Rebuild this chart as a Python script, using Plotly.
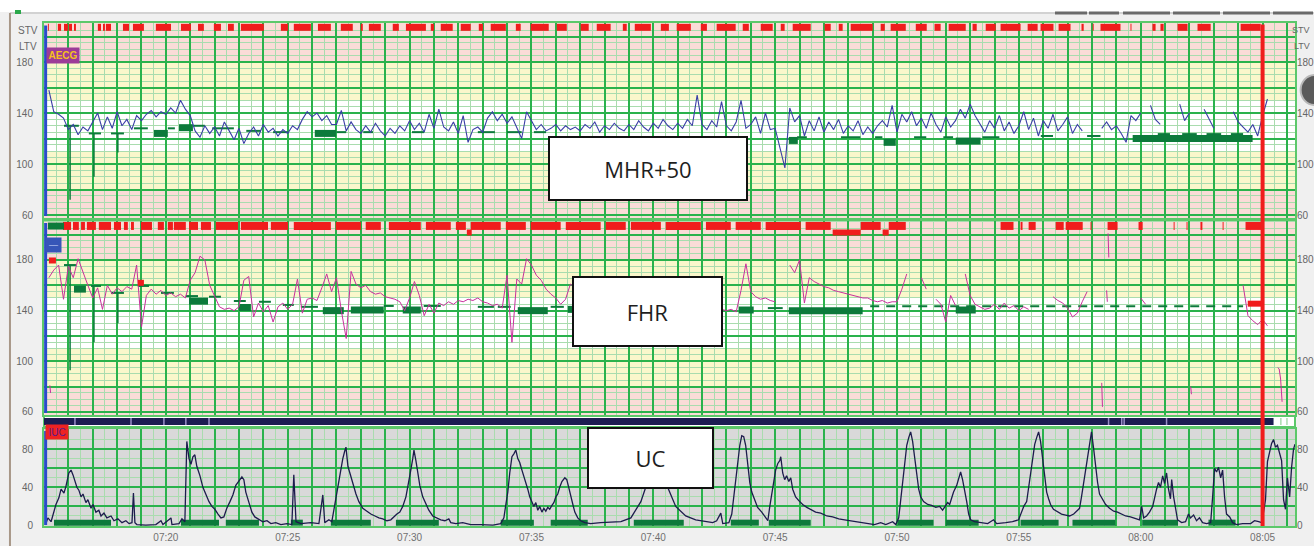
import plotly.graph_objects as go

# ---------------- DATA (time in minutes after 07:00) ----------------
X_RANGE = [15.0, 66.33]
TICK_MINUTES = [20, 25, 30, 35, 40, 45, 50, 55, 60, 65]
TICK_LABELS = ["07:20", "07:25", "07:30", "07:35", "07:40", "07:45", "07:50", "07:55", "08:00", "08:05"]
HR_LABEL_VALUES = [60, 100, 140, 180]
UC_LABEL_VALUES = [0, 40, 80]
MARKER_MINUTE = 65.0  # red time cursor (08:05)

# sampled heart-rate traces (every 0.2 min starting 07:15)
SAMPLE_START = 15.0
SAMPLE_STEP = 0.2
mhr_values = [
    None, 158, 141, 139, 136, 127, 131, 123, 129, 126,
    133, 140, 127, 137, 128, 141, 130, 135, 127, 138,
    134, 139, 142, 137, 141, 139, 144, 140, 150, 143,
    138, 126, 121, 130, 124, 129, 122, 133, 126, 119,
    128, 116, 124, 129, 122, 131, 125, 128, 122, 127,
    124, 130, 127, 135, 141, 137, 140, 134, 138, 131,
    131, 142, 126, 133, 127, 124, 130, 125, 132, 126,
    122, 128, 124, 130, 126, 134, 127, 132, 125, 139,
    128, 143, 129, 126, 133, 124, 138, 117, 127, 129,
    125, 136, 141, 134, 139, 132, 137, 128, 120, 141,
    134, 127, 131, 126, 128, 131, 126, 130, 127, 129,
    126, 131, 128, 133, 125, 130, 127, 132, 128, 126,
    131, 127, 134, 129, 126, 132, 128, 135, 130, 127,
    132, 128, 135, 130, 154, 131, 127, 134, 129, 149,
    130, 126, 133, 150, 128, 131, 137, 124, 140, 127,
    128, 113, 97, 144, 133, 138, 122, 134, 126, 137,
    125, 133, 127, 135, 124, 130, 126, 134, 123, 129,
    124, 130, 134, 129, 146, 125, 139, 133, 141, 130,
    136, 128, 140, 131, 125, 137, 129, 134, 143, 136,
    147, 138, 131, 125, 134, 128, 138, 126, 133, 124,
    130, 141, 127, 136, 122, 134, 128, 139, 126, 131,
    137, 124, 131, 126, None, None, None, 128, 133, 127,
    130, 124, 117, 138, 134, 140, None, 146, 135, 131,
    None, None, None, 147, 134, 140, None, None, 143, 135,
    128, None, None, None, 141, 133, 129, 125, 131, 122,
    138, 151,
]
fhr_values = [
    None, 166, 172, 176, 149, 175, 166, 181, 170, 160,
    150, 158, 141, 160, 153, 158, 155, 159, 157, 176,
    127, 152, 157, 153, 156, 152, 154, 151, 153, 150,
    164, 170, 183, 180, 160, 151, 143, 141, 142, 140,
    143, 164, 167, 135, 146, 139, 144, 131, 143, 146,
    141, 145, 165, 138, 149, 150, 148, 158, 169, 155,
    166, 140, 118, 171, 161, 158, 160, 155, 153, 154,
    151, 150, 149, 147, 140, 150, 163, 152, 136, 145,
    138, 146, 144, 147, 145, 148, 147, 149, 148, 150,
    147, 146, 144, 145, 142, 168, 115, 165, 161, 181,
    176, 168, 164, 157, 153, 150, 145, 149, 161, 158,
    152, 148, 150, 146, 149, 151, 147, 145, 148, 150,
    146, 144, 147, 149, 145, 143, 146, 148, 144, 142,
    145, 147, 143, 141, 144, 146, 142, 140, 143, 141,
    140, 141, 139, 156, 177, 155, 151, 149, 150, 148,
    147, None, None, 176, 170, 180, 146, 166, 163, 161,
    159, 158, 156, 155, 154, 153, 152, 151, 150, 150,
    148, 147, 148, 146, 147, 147, 157, 169, None, None,
    166, 157, None, 149, 145, 131, 152, 144, None, 169,
    152, 145, 143, 141, 142, 145, 141, 146, 142, 144,
    140, 143, 141, None, None, None, None, 151, 148, 146,
    142, 135, 138, 147, 155, None, None, None, None, None,
    None, None, None, None, None, 150, 145, None, None, None,
    None, None, None, None, None, None, None, None, None, None,
    None, None, None, None, None, None, 160, 136, 132, 129,
    133, 128,
]
# isolated FHR artefact strokes (minute, bpm)
fhr_artifact_t = [15.24, 15.27, None, 58.40, 58.43, None, 58.60, 58.63, None,
                  58.66, 58.69, None, 62.05, 62.08, None, 65.62, 65.68, 65.74, 65.80]
fhr_artifact_v = [81, 75, None, 83, 64, None, 156, 147, None,
                  201, 182, None, 80, 74, None, 95, 94, 86, 68]

# uterine contractions (minute, mmHg)
uc_points = [
    (15.08, 2), (15.16, 8), (15.29, 4), (15.41, 14), (15.49, 22), (15.61, 29), (15.70, 38),
    (15.82, 34), (15.90, 41), (16.02, 55), (16.11, 58), (16.19, 53), (16.27, 47), (16.35, 40),
    (16.43, 37), (16.52, 30), (16.60, 33), (16.72, 24), (16.80, 27), (16.93, 18), (17.01, 22),
    (17.13, 14), (17.25, 16), (17.34, 10), (17.46, 13), (17.58, 8), (17.75, 10), (17.87, 5),
    (18.03, 7), (18.20, 3), (18.36, 5), (18.49, 2), (18.61, 3), (18.67, 34), (18.73, 3),
    (18.81, 1), (19.18, 0.5), (19.59, 1), (19.80, 5), (19.88, 1), (20.21, 8), (20.25, 1),
    (20.54, 2), (20.66, 7), (20.78, 4), (20.86, 88), (20.95, 70), (21.03, 64), (21.11, 72),
    (21.19, 74), (21.27, 62), (21.40, 52), (21.52, 40), (21.64, 32), (21.77, 25), (21.89, 20),
    (22.01, 17), (22.14, 12), (22.26, 8), (22.38, 9), (22.50, 18), (22.63, 25), (22.75, 32),
    (22.87, 42), (23.00, 47), (23.12, 51), (23.20, 48), (23.28, 35), (23.41, 24), (23.53, 14),
    (23.65, 9), (23.82, 6), (23.98, 4), (24.15, 5), (24.31, 2), (24.51, 3), (24.72, 1),
    (24.97, 2), (25.17, 1), (25.25, 53), (25.34, 4), (25.54, 2), (25.95, 3), (26.28, 2),
    (26.44, 32), (26.52, 3), (26.69, 6), (26.81, 4), (26.93, 22), (27.02, 35), (27.10, 48),
    (27.18, 62), (27.26, 70), (27.34, 78), (27.39, 82), (27.47, 62), (27.55, 55), (27.67, 42),
    (27.80, 33), (27.92, 25), (28.08, 18), (28.25, 15), (28.41, 12), (28.58, 10), (28.74, 8),
    (28.90, 7), (29.07, 5), (29.23, 6), (29.35, 9), (29.48, 12), (29.60, 14), (29.72, 20),
    (29.85, 30), (29.97, 45), (30.05, 58), (30.13, 70), (30.18, 79), (30.26, 68), (30.34, 55),
    (30.42, 42), (30.54, 30), (30.67, 22), (30.79, 16), (30.95, 10), (31.12, 8), (31.28, 6),
    (31.45, 5), (31.61, 7), (31.69, 3), (31.90, 2), (32.18, 3), (32.51, 1), (32.92, 1),
    (33.42, 0.5), (33.74, 2), (33.87, 8), (33.95, 22), (34.03, 35), (34.11, 55), (34.20, 72),
    (34.28, 75), (34.36, 79), (34.44, 70), (34.52, 66), (34.61, 58), (34.69, 52), (34.77, 44),
    (34.85, 38), (34.93, 30), (35.02, 24), (35.10, 20), (35.18, 24), (35.26, 16), (35.34, 20),
    (35.43, 14), (35.51, 18), (35.59, 15), (35.67, 19), (35.75, 17), (35.84, 21), (35.92, 24),
    (36.00, 30), (36.08, 33), (36.16, 40), (36.25, 46), (36.37, 50), (36.45, 48), (36.53, 40),
    (36.61, 30), (36.70, 22), (36.78, 14), (36.90, 8), (37.02, 5), (37.19, 3), (37.43, 2),
    (37.84, 3), (38.67, 4), (39.08, 8), (39.49, 25), (39.82, 50), (40.06, 70), (40.18, 77),
    (40.35, 65), (40.59, 40), (40.92, 20), (41.33, 10), (41.74, 6), (42.16, 4), (42.44, 3),
    (42.60, 5), (42.77, 13), (42.85, 2), (43.10, 3), (43.22, 12), (43.30, 30), (43.38, 50),
    (43.46, 70), (43.55, 84), (43.63, 94), (43.71, 93), (43.79, 84), (43.87, 65), (43.96, 45),
    (44.04, 35), (44.16, 27), (44.28, 19), (44.45, 14), (44.57, 10), (44.70, 5), (44.78, 20),
    (44.86, 32), (44.94, 45), (45.02, 58), (45.11, 65), (45.19, 68), (45.23, 72), (45.31, 55),
    (45.39, 48), (45.47, 52), (45.56, 46), (45.64, 50), (45.72, 38), (45.84, 30), (45.97, 26),
    (46.13, 22), (46.30, 19), (46.46, 17), (46.66, 14), (46.87, 13), (47.12, 10), (47.36, 9),
    (47.61, 7), (47.85, 6), (48.10, 5), (48.35, 4), (48.59, 3), (48.84, 2.5), (49.08, 1),
    (49.33, 3), (49.54, 1), (49.82, 4), (49.95, 1), (50.07, 8), (50.15, 25), (50.23, 45),
    (50.31, 65), (50.40, 84), (50.48, 92), (50.56, 98), (50.64, 88), (50.72, 70), (50.81, 55),
    (50.89, 38), (50.97, 30), (51.09, 25), (51.26, 22), (51.42, 21), (51.59, 19), (51.75, 20),
    (51.87, 16), (51.95, 19), (52.08, 24), (52.16, 22), (52.24, 28), (52.32, 35), (52.45, 42),
    (52.53, 50), (52.61, 56), (52.69, 48), (52.77, 38), (52.86, 25), (52.94, 12), (53.02, 6),
    (53.18, 4), (53.43, 3), (53.72, 2), (53.96, 6), (54.09, 2), (54.46, 3), (54.74, 4),
    (54.99, 6), (55.07, 12), (55.20, 20), (55.32, 25), (55.40, 40), (55.48, 50), (55.56, 70),
    (55.65, 85), (55.73, 92), (55.81, 98), (55.89, 88), (55.97, 70), (56.06, 50), (56.14, 35),
    (56.22, 28), (56.30, 22), (56.42, 17), (56.59, 14), (56.75, 12), (56.92, 11), (57.08, 10),
    (57.25, 12), (57.37, 15), (57.49, 18), (57.57, 30), (57.66, 45), (57.74, 55), (57.82, 70),
    (57.90, 85), (57.98, 98), (58.07, 80), (58.15, 60), (58.23, 45), (58.31, 33), (58.44, 27),
    (58.56, 22), (58.72, 18), (58.89, 15), (59.05, 14), (59.22, 12), (59.38, 10), (59.58, 9),
    (59.79, 7), (59.95, 6), (60.04, 20), (60.12, 8), (60.24, 10), (60.36, 14), (60.49, 20),
    (60.57, 30), (60.65, 38), (60.73, 45), (60.81, 40), (60.90, 52), (60.98, 44), (61.06, 55),
    (61.14, 38), (61.22, 28), (61.27, 48), (61.35, 30), (61.43, 18), (61.51, 6), (61.68, 3),
    (61.84, 4), (61.96, 12), (62.04, 8), (62.17, 11), (62.29, 5), (62.41, 8), (62.54, 3),
    (62.70, 2), (62.87, 3), (62.95, 30), (63.03, 60), (63.11, 56), (63.19, 61), (63.28, 50),
    (63.36, 58), (63.44, 30), (63.52, 12), (63.65, 9), (63.77, 3), (63.93, 1), (64.18, 2),
    (64.51, 2), (64.67, 5), (64.84, 4), (64.96, 3), (65.04, 14), (65.12, 27), (65.20, 67),
    (65.29, 76), (65.37, 86), (65.45, 90), (65.53, 82), (65.61, 84), (65.70, 75), (65.78, 68),
    (65.86, 27), (65.94, 17), (66.02, 50), (66.11, 30), (66.19, 61), (66.27, 80), (66.33, 85),
]
uc_t = [p[0] for p in uc_points]
uc_v = [p[1] for p in uc_points]

# STV red flags (minute intervals)
mhr_stv_flags = [
    (15.16, 15.20), (15.57, 15.70), (15.82, 15.98), (16.02, 16.15), (16.23, 16.31), (17.21, 17.34),
    (17.42, 17.50), (17.54, 17.75), (18.24, 18.49), (18.65, 19.10), (19.59, 20.21), (20.62, 21.03),
    (21.32, 21.56), (21.97, 22.26), (22.55, 22.79), (23.08, 24.02), (24.72, 25.01), (25.25, 25.95),
    (26.24, 26.77), (27.18, 27.67), (28.00, 28.08), (28.33, 28.82), (29.31, 29.56), (29.85, 30.67),
    (30.87, 31.00), (31.28, 31.77), (32.10, 32.51), (32.84, 33.01), (33.33, 33.95), (34.36, 34.56),
    (34.97, 35.71), (36.04, 36.45), (37.02, 37.35), (37.68, 38.25), (38.75, 38.91), (39.24, 39.90),
    (40.31, 40.64), (40.96, 41.54), (41.95, 42.20), (42.60, 43.38), (43.67, 43.92), (44.41, 44.90),
    (45.23, 45.39), (45.72, 46.46), (47.03, 47.28), (47.61, 47.77), (48.10, 49.00), (49.33, 49.50),
    (49.74, 50.36), (50.77, 51.22), (51.54, 51.79), (52.12, 52.82), (53.10, 53.27), (53.64, 54.05),
    (54.25, 55.07), (55.36, 55.77), (55.89, 56.42), (56.63, 57.12), (57.57, 57.66), (58.03, 58.07),
    (58.35, 59.17), (59.58, 59.62), (60.48, 60.61), (60.81, 60.94), (61.51, 61.92), (62.33, 62.87),
    (64.10, 64.92),
]
fhr_stv_flags = [
    (15.78, 16.11), (16.19, 16.43), (16.52, 16.68), (16.76, 17.13), (17.25, 17.75), (17.87, 18.16),
    (18.28, 18.44), (18.57, 18.69), (18.98, 19.43), (19.67, 19.92), (20.08, 20.29), (20.33, 20.82),
    (20.95, 21.32), (21.44, 21.85), (22.05, 22.96), (23.08, 24.19), (24.31, 25.01), (25.25, 26.77),
    (26.97, 28.00), (28.20, 28.82), (29.15, 30.46), (30.67, 31.69), (31.90, 32.31), (32.51, 33.74),
    (33.95, 34.77), (34.97, 36.20), (36.41, 37.84), (38.05, 38.87), (39.08, 40.31), (40.51, 41.95),
    (42.16, 43.18), (43.38, 44.41), (44.61, 46.05), (46.25, 47.28), (48.51, 49.33), (49.66, 50.36),
    (54.25, 54.78), (55.07, 55.15), (55.40, 55.69), (56.51, 56.84), (56.92, 57.62), (57.94, 57.98),
    (58.64, 59.05), (59.91, 60.08), (61.35, 61.39), (61.88, 61.92), (62.45, 62.53), (63.36, 63.40),
    (64.30, 65.04),
]

# baseline markers (start, end, bpm)
mhr_base_thin = [
    (15.82, 16.43, 130), (16.84, 17.34, 124), (17.75, 18.28, 124), (18.69, 19.26, 128),
    (20.08, 20.37, 128), (21.11, 21.60, 130), (21.90, 22.79, 128), (23.30, 23.90, 126),
    (24.40, 25.00, 125), (27.00, 27.40, 125), (28.10, 28.50, 125), (30.10, 30.60, 125),
    (32.80, 33.50, 125), (34.00, 34.60, 125), (35.10, 35.60, 125), (45.90, 46.30, 121),
    (47.70, 48.50, 121), (49.10, 49.40, 121), (50.70, 51.20, 121), (51.90, 52.30, 121),
    (53.50, 54.20, 121), (55.90, 56.40, 122), (57.80, 58.35, 122),
]
mhr_base_blocks = [
    (19.51, 20.08, 124), (20.54, 21.11, 128.5), (26.11, 26.98, 124), (45.56, 45.93, 118.5),
    (49.45, 49.95, 117), (52.41, 53.43, 118), (59.67, 64.59, 120), (60.70, 61.20, 121.5),
    (61.70, 62.30, 121.5), (62.70, 63.30, 121.5), (63.70, 64.20, 121.5),
]
mhr_events = [(16.07, 130, 72), (17.05, 124, 90), (18.03, 124, 109)]

fhr_base_thin = [
    (15.82, 16.31, 176), (16.93, 17.34, 159.5), (17.75, 18.28, 154), (18.85, 19.31, 159.5),
    (19.80, 20.33, 154), (20.82, 21.32, 151.5), (21.77, 22.26, 151), (22.79, 23.28, 147.6),
    (23.82, 24.31, 147), (24.80, 25.25, 144.5), (25.54, 26.24, 143), (28.94, 29.35, 143.7),
    (30.58, 31.28, 143.7), (32.80, 33.46, 143), (33.62, 34.15, 143), (35.79, 36.33, 143),
    (41.95, 42.77, 141), (44.70, 45.31, 142),
]
fhr_base_dashed = [(48.90, 64.20, 143.5)]
fhr_base_blocks = [
    (15.16, 15.82, 206.8), (16.23, 16.72, 157), (20.95, 21.73, 147.5), (23.00, 23.49, 142.5),
    (26.44, 27.30, 140), (27.59, 28.94, 140.5), (29.72, 30.46, 140.5), (34.44, 35.67, 140),
    (36.49, 36.70, 141), (43.51, 44.12, 140.5), (45.56, 48.59, 140), (52.41, 53.23, 140.5),
]
fhr_events = [(16.07, 176, 93), (17.05, 159, 115), (18.03, 154, 130)]
fhr_red_blocks = [
    (15.20, 15.49, 179.6), (18.85, 19.10, 162), (32.35, 32.55, 201.7),
    (47.36, 48.51, 201.7), (49.41, 49.66, 201.7), (64.39, 65.00, 145.5),
]
uc_contraction_bars = [
    (15.41, 17.75), (20.62, 22.18), (22.46, 23.82), (25.13, 25.62), (26.77, 28.41),
    (29.44, 31.20), (33.74, 35.10), (35.79, 37.31), (39.20, 41.25), (43.18, 44.33),
    (44.74, 46.46), (50.03, 51.50), (52.00, 53.35), (55.07, 56.63), (57.20, 58.96),
    (60.06, 61.53), (62.78, 63.89),
]
signal_strip_end = 65.45
signal_strip_marks = [16.27, 18.57, 19.92, 20.82, 21.77, 58.68, 59.22, 59.32, 61.06]

# ---------------- STYLE ----------------
PINK = "#fadcd7"
YELLOW = "#faf7cb"
UC_BG = "#d9d9d9"
GRID_MAJOR = "#2ab24c"
GRID_MINOR = "#a9dcae"
FRAME = "#5cc86a"
DKGREEN = "#0c7a3b"
RED = "#f01c1c"
MHR_COLOR = "#3a3ea6"
FHR_COLOR = "#c8309c"
UC_COLOR = "#1c1c4c"
NAVY = "#1c1c52"
LABEL_COLOR = "#666666"
FONT = "Liberation Sans"

MHR_STRIP_LEVEL = 207.2
FHR_STRIP_LEVEL = 206.9
UC_BAR_LEVEL = 3.0

HR_RANGE_TOP = [57.65, 210.6]
HR_RANGE_MID = [57.6, 210.8]
UC_RANGE = [-0.5, 101]
DOM_TOP = [0.6123, 1.0]
DOM_MID = [0.2207, 0.6064]
DOM_UC = [0.0, 0.1928]
STRIP_DOM = [0.2008, 0.2147]


def pairs_xy(intervals, level):
    xs, ys = [], []
    for a, b in intervals:
        xs += [a, b, None]
        ys += [level, level, None]
    return xs, ys


def leveled_xy(items):
    xs, ys = [], []
    for a, b, v in items:
        xs += [a, b, None]
        ys += [v, v, None]
    return xs, ys


def vertical_xy(items):
    xs, ys = [], []
    for t, v0, v1 in items:
        xs += [t, t, None]
        ys += [v0, v1, None]
    return xs, ys


def line_trace(xs, ys, color, width, xa, ya, dash=None):
    return go.Scatter(x=xs, y=ys, mode="lines", xaxis=xa, yaxis=ya,
                      line=dict(color=color, width=width, dash=dash),
                      hoverinfo="skip", showlegend=False)


mhr_t = [SAMPLE_START + SAMPLE_STEP * i for i in range(len(mhr_values))]
fhr_t = [SAMPLE_START + SAMPLE_STEP * i for i in range(len(fhr_values))]

fig = go.Figure()

# --- top panel (MHR) ---
fig.add_trace(line_trace(*pairs_xy(mhr_stv_flags, MHR_STRIP_LEVEL), RED, 7, "x", "y"))
fig.add_trace(line_trace(*vertical_xy(mhr_events), DKGREEN, 1.5, "x", "y"))
fig.add_trace(line_trace(*leveled_xy(mhr_base_thin), DKGREEN, 2, "x", "y"))
fig.add_trace(line_trace(*leveled_xy(mhr_base_blocks), DKGREEN, 7, "x", "y"))
fig.add_trace(line_trace(mhr_t, mhr_values, MHR_COLOR, 1.1, "x", "y"))

# --- middle panel (FHR) ---
fig.add_trace(line_trace(*pairs_xy(fhr_stv_flags, FHR_STRIP_LEVEL), RED, 8, "x2", "y2"))
fig.add_trace(line_trace(*vertical_xy(fhr_events), DKGREEN, 1.5, "x2", "y2"))
fig.add_trace(line_trace(*leveled_xy(fhr_base_thin), DKGREEN, 2, "x2", "y2"))
fig.add_trace(line_trace(*leveled_xy(fhr_base_dashed), DKGREEN, 2, "x2", "y2", dash="9px,7px"))
fig.add_trace(line_trace(*leveled_xy(fhr_base_blocks), DKGREEN, 7, "x2", "y2"))
fig.add_trace(line_trace(fhr_t, fhr_values, FHR_COLOR, 1, "x2", "y2"))
fig.add_trace(line_trace(fhr_artifact_t, fhr_artifact_v, FHR_COLOR, 1, "x2", "y2"))
fig.add_trace(line_trace(*leveled_xy(fhr_red_blocks), RED, 6, "x2", "y2"))

# --- bottom panel (UC) ---
fig.add_trace(line_trace(*pairs_xy(uc_contraction_bars, UC_BAR_LEVEL), DKGREEN, 6, "x3", "y3"))
fig.add_trace(line_trace(uc_t, uc_v, UC_COLOR, 1.3, "x3", "y3"))

# invisible traces to realise right-hand label axes
for xa, ya in (("x", "y4"), ("x2", "y5"), ("x3", "y6")):
    fig.add_trace(go.Scatter(x=[None], y=[None], xaxis=xa, yaxis=ya, showlegend=False, hoverinfo="skip"))

# ---------------- AXES ----------------
x_major = list(range(15, 67))
x_text = [TICK_LABELS[TICK_MINUTES.index(m)] if m in TICK_MINUTES else "" for m in x_major]
x_minor = [m + 0.5 for m in range(15, 66)]

xcommon = dict(range=X_RANGE, tickmode="array", tickvals=x_major, ticktext=x_text,
               showgrid=True, gridcolor=GRID_MAJOR, gridwidth=2, automargin=False,
               minor=dict(tickmode="array", tickvals=x_minor, showgrid=True, gridcolor=GRID_MINOR, gridwidth=1),
               showline=True, mirror=True, linecolor=FRAME, linewidth=2, zeroline=False,
               ticks="outside", ticklen=1, tickcolor="rgba(0,0,0,0)",
               tickfont=dict(family=FONT, size=10, color="#707070"))

hr_major = list(range(60, 201, 20))
hr_text = [str(v) if v in HR_LABEL_VALUES else "" for v in hr_major]
hr_minor = [v for v in range(60, 211, 5) if v % 20 != 0]
uc_major = list(range(0, 101, 20))
uc_text = [str(v) if v in UC_LABEL_VALUES else "" for v in uc_major]
uc_minor = [v for v in range(10, 100, 20)]


def ycommon(rng, dom, major, text, minor):
    return dict(range=rng, domain=dom, tickmode="array", tickvals=major, ticktext=text,
                showgrid=True, gridcolor=GRID_MAJOR, gridwidth=2, automargin=False,
                minor=dict(tickmode="array", tickvals=minor, showgrid=True, gridcolor=GRID_MINOR, gridwidth=1),
                showline=True, mirror=True, linecolor=FRAME, linewidth=2, zeroline=False,
                ticks="outside", ticklen=7, tickcolor="rgba(0,0,0,0)",
                tickfont=dict(family=FONT, size=10, color=LABEL_COLOR))


def yright(rng, over, anchor, labels):
    return dict(range=rng, overlaying=over, anchor=anchor, side="right", tickmode="array",
                tickvals=labels, ticktext=[str(v) for v in labels], showgrid=False, zeroline=False,
                showline=False, ticks="", automargin=False, ticklabelstandoff=1,
                tickfont=dict(family=FONT, size=10, color=LABEL_COLOR))


fig.update_layout(
    width=1314, height=546,
    margin=dict(l=44, r=19, t=23, b=20, autoexpand=False),
    paper_bgcolor="#f0f0f0", plot_bgcolor="white", showlegend=False,
    xaxis=dict(xcommon, anchor="y", showticklabels=False),
    xaxis2=dict(xcommon, anchor="y2", showticklabels=False),
    xaxis3=dict(xcommon, anchor="y3", showticklabels=True),
    yaxis=ycommon(HR_RANGE_TOP, DOM_TOP, hr_major, hr_text, hr_minor),
    yaxis2=ycommon(HR_RANGE_MID, DOM_MID, hr_major, hr_text, hr_minor),
    yaxis3=ycommon(UC_RANGE, DOM_UC, uc_major, uc_text, uc_minor),
    yaxis4=yright(HR_RANGE_TOP, "y", "x", HR_LABEL_VALUES),
    yaxis5=yright(HR_RANGE_MID, "y2", "x2", HR_LABEL_VALUES),
    yaxis6=yright(UC_RANGE, "y3", "x3", UC_LABEL_VALUES),
)

# ---------------- SHAPES ----------------
shapes = []
for yref, rng in (("y", HR_RANGE_TOP), ("y2", HR_RANGE_MID)):
    bands = [(rng[0], 80, PINK), (80, 110, YELLOW), (150, 180, YELLOW), (180, rng[1], PINK)]
    for y0, y1, col in bands:
        shapes.append(dict(type="rect", xref="paper", yref=yref, x0=0, x1=1, y0=y0, y1=y1,
                           fillcolor=col, line=dict(width=0), layer="below"))
shapes.append(dict(type="rect", xref="paper", yref="y3", x0=0, x1=1, y0=UC_RANGE[0], y1=UC_RANGE[1],
                   fillcolor=UC_BG, line=dict(width=0), layer="below"))

# signal-quality strip between FHR and UC
shapes.append(dict(type="rect", xref="paper", yref="paper", x0=0, x1=1, y0=STRIP_DOM[0] - 0.004,
                   y1=STRIP_DOM[1] + 0.004, fillcolor="white", line=dict(color=FRAME, width=2)))
shapes.append(dict(type="rect", xref="x3", yref="paper", x0=X_RANGE[0], x1=signal_strip_end,
                   y0=STRIP_DOM[0], y1=STRIP_DOM[1], fillcolor=NAVY, line=dict(width=0)))
for m in signal_strip_marks:
    shapes.append(dict(type="line", xref="x3", yref="paper", x0=m, x1=m, y0=STRIP_DOM[0], y1=STRIP_DOM[1],
                       line=dict(color="#9a8fc8", width=1.5)))
for m in (65.75, 66.0):
    shapes.append(dict(type="line", xref="x3", yref="paper", x0=m, x1=m, y0=STRIP_DOM[0], y1=STRIP_DOM[1],
                       line=dict(color=GRID_MINOR, width=1.5)))

# time cursor and left blue rail
shapes.append(dict(type="line", xref="x3", yref="paper", x0=MARKER_MINUTE, x1=MARKER_MINUTE, y0=0, y1=0.997,
                   line=dict(color=RED, width=4), layer="above"))
shapes.append(dict(type="line", xref="paper", yref="paper", x0=0.0013, x1=0.0013, y0=DOM_TOP[0] + 0.004,
                   y1=0.995, line=dict(color="#2a4bcc", width=3), layer="above"))
shapes.append(dict(type="line", xref="paper", yref="paper", x0=0.0013, x1=0.0013, y0=DOM_MID[0] + 0.004,
                   y1=DOM_MID[1] - 0.004, line=dict(color="#2a4bcc", width=3), layer="above"))
shapes.append(dict(type="line", xref="paper", yref="paper", x0=0.0013, x1=0.0013, y0=0.002,
                   y1=DOM_UC[1] - 0.004, line=dict(color="#2a4bcc", width=3), layer="above"))

# window chrome
shapes.append(dict(type="rect", xref="paper", yref="paper", x0=-0.04, x1=1.02, y0=1.0219, y1=1.05,
                   fillcolor="white", line=dict(width=0)))
shapes.append(dict(type="line", xref="paper", yref="paper", x0=-0.0272, x1=1.02, y0=1.0199, y1=1.0199,
                   line=dict(color="#c8c8c8", width=1.5)))
shapes.append(dict(type="line", xref="paper", yref="paper", x0=-0.0272, x1=-0.0272, y0=-0.05, y1=1.0199,
                   line=dict(color="#a89888", width=2)))
shapes.append(dict(type="rect", xref="paper", yref="paper", x0=-0.0232, x1=-0.0184, y0=1.0179, y1=1.0258,
                   fillcolor="#2aa84a", line=dict(width=0)))
for a, b in ((1055, 1087), (1089, 1119), (1123, 1170), (1173, 1220), (1223, 1270), (1273, 1313)):
    shapes.append(dict(type="line", xref="paper", yref="paper", x0=(a - 44) / 1251, x1=(b - 44) / 1251,
                       y0=1.0199, y1=1.0199, line=dict(color="#6a6a6a", width=3)))
shapes.append(dict(type="circle", xref="paper", yref="paper", x0=1.0045, x1=1.027, y0=0.837, y1=0.8966,
                   fillcolor="#5a5a5a", line=dict(color="#b8b8b8", width=2)))
fig.update_layout(shapes=shapes)

# ---------------- ANNOTATIONS ----------------
ann = []
for text, x, y, w, h in (("MHR+50", 0.4828, 0.7763, 196, 61),
                         ("FHR", 0.4824, 0.4274, 147, 67),
                         ("UC", 0.4852, 0.0726, 123, 58)):
    ann.append(dict(text=text, x=x, y=y, xref="paper", yref="paper", showarrow=False,
                    width=w, height=h, bgcolor="white", bordercolor="#111111", borderwidth=2,
                    borderpad=0, font=dict(family="Open Sans", size=22, color="#1e1e1e")))
ann.append(dict(text="<b>AECG</b>", x=0.0016, y=0.9513, xref="paper", yref="paper", xanchor="left",
                showarrow=False, width=32, height=15, bgcolor="#9c3c98", borderpad=0,
                font=dict(family=FONT, size=10, color="#f4c21c")))
ann.append(dict(text="—", x=0.0009, y=0.5586, xref="paper", yref="paper", xanchor="left",
                showarrow=False, width=15, height=14, bgcolor="#3656b8", borderpad=0,
                font=dict(family=FONT, size=9, color="#d0dcff")))
ann.append(dict(text="IUC", x=0.0009, y=0.171, xref="paper", yref="paper", xanchor="left",
                showarrow=False, width=22, height=14, bgcolor="#ee2222", borderpad=0,
                font=dict(family=FONT, size=10, color="#5a1a8a")))
for text, x, y, xa in (("STV", -0.0128, 0.998, "center"), ("LTV", -0.0128, 0.9662, "center"),
                       ("STV", 1.0128, 0.998, "right"), ("LTV", 1.0128, 0.9662, "right")):
    ann.append(dict(text=text, x=x, y=y, xref="paper", yref="paper", showarrow=False, xanchor=xa,
                    borderpad=0, font=dict(family=FONT, size=9 if xa == "right" else 10, color=LABEL_COLOR)))
fig.update_layout(annotations=ann)

fig.write_html("out.html", config={"displayModeBar": False},
               post_script="document.body.style.margin='0px';document.body.style.padding='0px';"
                           "document.body.style.overflow='hidden';")
